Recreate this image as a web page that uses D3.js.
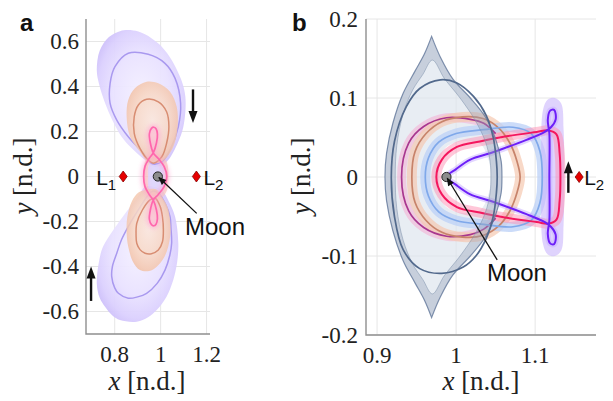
<!DOCTYPE html>
<html>
<head>
<meta charset="utf-8">
<script src="https://cdn.jsdelivr.net/npm/d3@7"></script>
<style>
html,body{margin:0;padding:0;background:#fff;}
svg{display:block;}
</style>
</head>
<body>
<svg id="fig" width="613" height="401"></svg>
<script>
// ---------------- data (non-dimensional rotating frame) ----------------
const aXTicks = [0.8, 1, 1.2];
const aYTicks = [-0.6, -0.4, -0.2, 0, 0.2, 0.4, 0.6];
const bXTicks = [0.9, 1, 1.1];
const bYTicks = [-0.2, -0.1, 0, 0.1, 0.2];

const moon = [0.9878, 0];
const L1 = 0.8369, L2 = 1.1557;

// panel a: upper and lower lobes of the families
const aPurpleBandUp = [[0.968,0.044],[0.932,0.073],[0.870,0.130],[0.830,0.177],[0.790,0.250],[0.758,0.327],[0.732,0.410],[0.722,0.473],[0.735,0.560],[0.775,0.620],[0.823,0.646],[0.859,0.651],[0.903,0.644],[0.960,0.615],[1.005,0.577],[1.050,0.515],[1.084,0.444],[1.103,0.385],[1.109,0.327],[1.099,0.221],[1.075,0.150],[1.033,0.073],[1.000,0.048]];
const aPurpleLineUp = [[0.859,0.548],[0.801,0.488],[0.780,0.414],[0.780,0.325],[0.809,0.251],[0.859,0.177],[0.932,0.096],[0.964,0.056],[1.005,0.066],[1.041,0.118],[1.077,0.221],[1.087,0.325],[1.063,0.436],[1.019,0.503],[0.946,0.543]];
const aOrangeBandUp = [[0.939,0.421],[0.888,0.392],[0.859,0.340],[0.852,0.266],[0.867,0.177],[0.910,0.110],[0.946,0.066],[1.005,0.066],[1.055,0.132],[1.074,0.221],[1.070,0.310],[1.041,0.377],[0.990,0.414]];
const aOrangeLineUp = [[0.939,0.343],[0.903,0.318],[0.885,0.266],[0.885,0.192],[0.910,0.125],[0.946,0.073],[0.968,0.059],[1.005,0.088],[1.026,0.148],[1.036,0.221],[1.026,0.288],[0.990,0.332]];

const aPurpleBandLow = [[0.932,-0.045],[0.910,-0.075],[0.867,-0.134],[0.794,-0.238],[0.750,-0.310],[0.736,-0.356],[0.722,-0.475],[0.735,-0.540],[0.758,-0.579],[0.790,-0.618],[0.823,-0.638],[0.896,-0.645],[0.945,-0.625],[0.983,-0.593],[1.025,-0.535],[1.055,-0.460],[1.072,-0.380],[1.077,-0.297],[1.063,-0.179],[1.035,-0.110],[1.005,-0.060],[0.970,-0.045]];
const aPurpleLineLow = [[0.946,-0.082],[0.905,-0.145],[0.867,-0.208],[0.830,-0.280],[0.809,-0.341],[0.790,-0.400],[0.787,-0.445],[0.800,-0.495],[0.816,-0.519],[0.859,-0.541],[0.900,-0.535],[0.939,-0.519],[0.985,-0.475],[1.019,-0.416],[1.040,-0.350],[1.048,-0.297],[1.045,-0.230],[1.041,-0.179],[1.020,-0.120],[0.990,-0.075],[0.965,-0.065]];
const aOrangeBandLow = [[0.955,-0.055],[0.905,-0.070],[0.875,-0.110],[0.855,-0.179],[0.852,-0.250],[0.859,-0.312],[0.880,-0.380],[0.910,-0.416],[0.950,-0.420],[0.983,-0.401],[1.015,-0.360],[1.033,-0.312],[1.043,-0.250],[1.041,-0.193],[1.030,-0.135],[1.005,-0.090],[0.985,-0.060]];
const aOrangeLineLow = [[0.976,-0.097],[0.954,-0.104],[0.920,-0.150],[0.896,-0.208],[0.893,-0.260],[0.896,-0.297],[0.910,-0.325],[0.932,-0.341],[0.960,-0.343],[0.990,-0.327],[1.008,-0.290],[1.012,-0.238],[1.008,-0.180],[0.998,-0.134]];

// band crossing the neighbourhood of the Moon
const aWaistOuter = [[0.925,0.000],[0.930,0.060],[0.950,0.095],[0.975,0.100],[1.005,0.095],[1.028,0.060],[1.034,0.000],[1.028,-0.060],[1.005,-0.095],[0.975,-0.100],[0.950,-0.095],[0.930,-0.060]];
const aWaistInner = [[0.945,0.000],[0.950,0.055],[0.975,0.072],[1.000,0.070],[1.015,0.045],[1.018,0.000],[1.015,-0.045],[1.000,-0.070],[0.975,-0.072],[0.950,-0.055]];

// small figure-eight family around the Moon
const aPink = [[0.968,0.105],[0.955,0.150],[0.951,0.190],[0.960,0.214],[0.970,0.219],[0.980,0.212],[0.986,0.188],[0.982,0.150],[0.968,0.105],[0.950,0.080],[0.932,0.045],[0.926,0.000],[0.932,-0.045],[0.950,-0.080],[0.968,-0.105],[0.982,-0.150],[0.986,-0.188],[0.980,-0.212],[0.970,-0.219],[0.960,-0.214],[0.951,-0.190],[0.955,-0.150],[0.968,-0.105],[0.990,-0.080],[1.015,-0.045],[1.027,0.000],[1.015,0.045],[0.990,0.080]];

// panel b
const bGrayRight = [[0.969,0.178],[0.980,0.152],[0.996,0.124],[1.018,0.100],[1.037,0.076],[1.050,0.048],[1.057,0.020],[1.058,0.000],[1.057,-0.020],[1.050,-0.048],[1.037,-0.076],[1.018,-0.100],[0.996,-0.124],[0.980,-0.152],[0.969,-0.178]];
const bGrayLeft = [[0.969,-0.178],[0.960,-0.156],[0.948,-0.134],[0.933,-0.106],[0.920,-0.068],[0.912,-0.030],[0.910,0.000],[0.912,0.030],[0.920,0.068],[0.933,0.106],[0.948,0.134],[0.960,0.156],[0.969,0.178]];
const bGrayInner = [[0.970,0.148],[0.985,0.125],[1.005,0.100],[1.024,0.072],[1.037,0.045],[1.043,0.020],[1.044,0.000],[1.043,-0.020],[1.037,-0.045],[1.024,-0.072],[1.005,-0.100],[0.985,-0.125],[0.970,-0.148],[0.958,-0.130],[0.945,-0.110],[0.933,-0.080],[0.925,-0.040],[0.923,0.000],[0.925,0.040],[0.933,0.080],[0.945,0.110],[0.958,0.130]];
const bGrayHole = [[1.044,0.000],[1.040,0.025],[1.030,0.042],[1.005,0.045],[0.985,0.035],[0.978,0.000],[0.985,-0.035],[1.005,-0.045],[1.030,-0.042],[1.040,-0.025]];
const bGrayLine = [[0.980,0.123],[1.001,0.119],[1.022,0.102],[1.038,0.078],[1.047,0.050],[1.051,0.020],[1.052,0.000],[1.051,-0.020],[1.047,-0.050],[1.038,-0.078],[1.025,-0.100],[1.009,-0.114],[0.982,-0.122],[0.954,-0.116],[0.933,-0.092],[0.922,-0.050],[0.918,0.000],[0.922,0.045],[0.937,0.089],[0.954,0.112]];

const bMagenta = [[1.050,0.055],[1.035,0.068],[1.018,0.073],[0.988,0.075],[0.959,0.064],[0.940,0.043],[0.931,0.000],[0.940,-0.043],[0.959,-0.064],[0.988,-0.075],[1.018,-0.073],[1.035,-0.066],[1.050,-0.052]];
const bOrange = [[0.944,0.000],[0.948,0.032],[0.962,0.055],[0.982,0.070],[1.008,0.076],[1.034,0.074],[1.054,0.062],[1.068,0.043],[1.077,0.020],[1.081,0.000],[1.077,-0.020],[1.068,-0.043],[1.054,-0.062],[1.034,-0.074],[1.008,-0.076],[0.982,-0.070],[0.962,-0.055],[0.948,-0.032]];
const bBlue = [[0.961,0.000],[0.965,0.024],[0.978,0.044],[1.000,0.055],[1.035,0.060],[1.072,0.063],[1.095,0.055],[1.106,0.033],[1.109,0.000],[1.106,-0.033],[1.095,-0.055],[1.072,-0.063],[1.035,-0.060],[1.000,-0.055],[0.978,-0.044],[0.965,-0.024]];
const bRed = [[0.975,0.000],[0.982,0.022],[1.001,0.038],[1.030,0.045],[1.060,0.051],[1.102,0.057],[1.117,0.059],[1.127,0.054],[1.131,0.030],[1.132,0.000],[1.131,-0.030],[1.127,-0.054],[1.117,-0.059],[1.102,-0.057],[1.060,-0.051],[1.030,-0.045],[1.001,-0.038],[0.982,-0.022]];
const bViolet = [[0.988,0.000],[1.000,0.010],[1.018,0.022],[1.043,0.030],[1.060,0.036],[1.089,0.047],[1.110,0.056],[1.120,0.063],[1.126,0.073],[1.124,0.085],[1.119,0.084],[1.116,0.072],[1.118,0.055],[1.118,0.000],[1.118,-0.055],[1.116,-0.072],[1.119,-0.084],[1.124,-0.085],[1.126,-0.073],[1.120,-0.063],[1.110,-0.056],[1.089,-0.047],[1.060,-0.036],[1.043,-0.030],[1.018,-0.022],[1.000,-0.010]];
const bVioletCap = [[1.108,0.000],[1.110,0.085],[1.116,0.098],[1.125,0.100],[1.133,0.093],[1.136,0.060],[1.137,0.000],[1.136,-0.060],[1.133,-0.093],[1.125,-0.100],[1.116,-0.098],[1.110,-0.085]];

// direction-of-motion arrows: [x, yFrom, yTo]
const aArrows = [[1.141,0.387,0.238],[0.697,-0.553,-0.400]];
const bArrows = [[1.142,-0.020,0.020]];

// ---------------- layout ----------------
const SERIF = '"Liberation Serif"';
const SANS = '"Liberation Sans"';
const svg = d3.select("#fig");
const defs = svg.append("defs");
const under = svg.append("g");
const over = svg.append("g");

const frameA = {l:86, r:210, t:19, b:334};
const frameB = {l:366, r:596, t:19, b:335};

function makePanel(f, xd, yd, id){
  const x = d3.scaleLinear().domain(xd).range([f.l, f.r]);
  const y = d3.scaleLinear().domain(yd).range([f.b, f.t]);
  defs.append("clipPath").attr("id", id).append("rect")
    .attr("x", f.l).attr("y", f.t).attr("width", f.r - f.l).attr("height", f.b - f.t);
  const g = under.append("g");
  return {x, y, f, g, id};
}
const A = makePanel(frameA, [0.675, 1.215], [-0.7, 0.7], "clipA");
const B = makePanel(frameB, [0.886, 1.177], [-0.2, 0.2], "clipB");

// tick labels from the scales
function tickLabels(P, xt, yt, padY){
  over.append("g").selectAll("text").data(yt).join("text")
    .attr("x", P.f.l - padY).attr("y", d => P.y(d)).attr("dy", "0.33em").attr("text-anchor", "end")
    .attr("font-family", "Liberation Serif").style("font-family", SERIF).style("font-size", "23px").attr("fill", "#222")
    .text(d => String(d));
  over.append("g").selectAll("text").data(xt).join("text")
    .attr("x", d => P.x(d)).attr("y", P.f.b + 28).attr("text-anchor", "middle")
    .attr("font-family", "Liberation Serif").style("font-family", SERIF).style("font-size", "23px").attr("fill", "#222")
    .text(d => String(d));
}
tickLabels(A, aXTicks, aYTicks, 7);
tickLabels(B, bXTicks, bYTicks, 8);

function axisTitles(xc, yc){
  const tx = over.append("text").attr("x", xc).attr("y", 390).attr("text-anchor", "middle")
    .attr("font-family", "Liberation Serif").style("font-family", SERIF).style("font-size", "27px").attr("fill", "#222");
  tx.append("tspan").style("font-style", "italic").text("x");
  tx.append("tspan").text(" [n.d.]");
  const ty = over.append("text").attr("transform", `translate(${yc},176) rotate(-90)`).attr("text-anchor", "middle")
    .attr("dy", "0.3em").attr("font-family", "Liberation Serif").style("font-family", SERIF).style("font-size", "27px").attr("fill", "#222");
  ty.append("tspan").style("font-style", "italic").text("y");
  ty.append("tspan").text(" [n.d.]");
}
axisTitles(147, 24);
axisTitles(481, 302);

[["a", 20], ["b", 292]].forEach(([s, x]) =>
  over.append("text").attr("x", x).attr("y", 31).style("font-family", SANS)
    .style("font-weight", "bold").style("font-size", "24px").attr("fill", "#111").text(s));

// filters, gradients, pointer marker
function blur(id, sd){
  defs.append("filter").attr("id", id).attr("x","-30%").attr("y","-30%").attr("width","160%").attr("height","160%")
    .append("feGaussianBlur").attr("stdDeviation", sd);
}
blur("soft", 0.6);
blur("glow", 2.2);
function radial(id, stops){
  const gr = defs.append("radialGradient").attr("id", id).attr("cx","50%").attr("cy","48%").attr("r","58%");
  stops.forEach(s => gr.append("stop").attr("offset", s[0]).attr("stop-color", s[1]));
}
radial("gPurple", [[0,"#f4f0ff"],[0.55,"#e9e2ff"],[0.85,"#dbd0fe"],[1,"#cdbffa"]]);
radial("gOrange", [[0,"#fbe7db"],[0.55,"#f8d8c5"],[0.85,"#f4c7ae"],[1,"#efbb9e"]]);

defs.append("marker").attr("id","ptr").attr("viewBox","0 0 10 10").attr("refX",9).attr("refY",5)
  .attr("markerWidth",9).attr("markerHeight",8).attr("markerUnits","userSpaceOnUse").attr("orient","auto")
  .append("path").attr("d","M0,0.8L10,5L0,9.2Z").attr("fill","#111");

// grid
function grid(P, xt, yt){
  const g = P.g.append("g");
  g.selectAll("line.gx").data(xt).join("line").attr("class","gx")
    .attr("x1", d => P.x(d)).attr("x2", d => P.x(d)).attr("y1", P.f.t).attr("y2", P.f.b)
    .attr("stroke", "#e6e6e6").attr("stroke-width", 1);
  g.selectAll("line.gy").data(yt).join("line").attr("class","gy")
    .attr("x1", P.f.l).attr("x2", P.f.r).attr("y1", d => P.y(d)).attr("y2", d => P.y(d))
    .attr("stroke", "#e6e6e6").attr("stroke-width", 1);
}
grid(A, aXTicks, aYTicks);
grid(B, bXTicks, bYTicks);

const closedLine = P => d3.line().x(d => P.x(d[0])).y(d => P.y(d[1])).curve(d3.curveCatmullRomClosed.alpha(0.5));
const openLine = P => d3.line().x(d => P.x(d[0])).y(d => P.y(d[1])).curve(d3.curveCatmullRom.alpha(0.5));

// ---------------- panel a ----------------
{
  const P = A, cl = closedLine(P);
  const layer = P.g.append("g").attr("clip-path", "url(#clipA)");
  [aPurpleBandUp, aPurpleBandLow].forEach(d =>
    layer.append("path").attr("d", cl(d)).attr("fill", "url(#gPurple)").attr("opacity", 0.95));
  layer.append("path").attr("d", cl(aWaistOuter) + cl(aWaistInner)).attr("fill-rule","evenodd")
    .attr("fill", "#f4cdb9").attr("opacity", 0.7).attr("filter","url(#soft)");
  layer.append("path").attr("d", cl(aWaistInner)).attr("fill", "#ddd3fc").attr("opacity", 0.9);
  [aPurpleLineUp, aPurpleLineLow].forEach(d =>
    layer.append("path").attr("d", cl(d)).attr("fill", "none").attr("stroke", "#a999ef").attr("stroke-width", 1.5));
  [aOrangeBandUp, aOrangeBandLow].forEach(d =>
    layer.append("path").attr("d", cl(d)).attr("fill", "url(#gOrange)").attr("opacity", 0.85));
  [aOrangeLineUp, aOrangeLineLow].forEach(d =>
    layer.append("path").attr("d", cl(d)).attr("fill", "none").attr("stroke", "#d88d72").attr("stroke-width", 1.5));
  layer.append("path").attr("d", cl(aPink)).attr("fill", "none").attr("stroke", "#ffa6d4")
    .attr("stroke-width", 6).attr("opacity", 0.55).attr("filter", "url(#glow)");
  layer.append("path").attr("d", cl(aPink)).attr("fill", "none").attr("stroke", "#ff67ad").attr("stroke-width", 1.7);
}

// ---------------- panel b ----------------
{
  const P = B, cl = closedLine(P), op = openLine(P);
  const layer = P.g.append("g").attr("clip-path", "url(#clipB)");
  const outerD = op(bGrayRight) + op(bGrayLeft).replace(/^M/, "L") + "Z";
  // light interior of the outer family
  layer.append("path").attr("d", outerD + cl(bGrayHole)).attr("fill-rule", "evenodd")
    .attr("fill", "#dce3ec").attr("opacity", 0.65);
  // bands
  const band = (d, color, w, o, closed = true) => layer.append("path")
    .attr("d", closed ? cl(d) : op(d)).attr("fill", "none").attr("stroke", color)
    .attr("stroke-width", w).attr("stroke-linecap", "round").attr("opacity", o).attr("filter", "url(#soft)");
  band(bMagenta, "#f5aed3", 9, 0.55, false);
  band(bOrange, "#f6c9b2", 10, 0.7);
  band(bBlue, "#bcd1f7", 10, 0.75);
  layer.append("path").attr("d", cl(bVioletCap)).attr("fill", "#cbb6fd").attr("opacity", 0.6).attr("filter", "url(#soft)");
  band(bRed, "#ff91b4", 10, 0.5);
  band(bViolet, "#c7aeff", 6, 0.5);
  // lines
  const line = (d, color, w, closed = true) => layer.append("path")
    .attr("d", closed ? cl(d) : op(d)).attr("fill", "none").attr("stroke", color).attr("stroke-width", w);
  line(bMagenta, "#a8378f", 1.7, false);
  line(bOrange, "#c7836a", 1.7);
  line(bBlue, "#7fa8ea", 1.7);
  line(bRed, "#f4175e", 2);
  line(bViolet, "#6d1ff8", 2);
  // outer family ribbon on top
  layer.append("path").attr("d", outerD + cl(bGrayInner)).attr("fill-rule", "evenodd")
    .attr("fill", "#95a3b9").attr("opacity", 0.4);
  layer.append("path").attr("d", cl(bGrayInner)).attr("fill", "none").attr("stroke", "#8193ad").attr("stroke-width", 0.9).attr("opacity", 0.6);
  layer.append("path").attr("d", outerD).attr("fill", "none").attr("stroke", "#62779a").attr("stroke-width", 1.2).attr("opacity", 0.8);
  line(bGrayLine, "#52698c", 1.7);
}

// axis lines (left and bottom)
[A, B].forEach(P => {
  under.append("path").attr("d", `M${P.f.l},${P.f.t}V${P.f.b}H${P.f.r}`)
    .attr("fill", "none").attr("stroke", "#8f8f8f").attr("stroke-width", 1.4);
});

// ---------------- annotations ----------------
function lagrange(P, xv, label, sub, side, gap){
  const cx = P.x(xv), cy = P.y(0);
  over.append("path").attr("d", `M${cx},${cy-5.5}L${cx+4},${cy}L${cx},${cy+5.5}L${cx-4},${cy}Z`)
    .attr("fill", "#e60000").attr("stroke", "#8a0000").attr("stroke-width", 0.8);
  const t = over.append("text").style("font-family", SANS).style("font-size", "21px")
    .attr("fill", "#111").attr("y", cy + 8)
    .attr("x", side === "left" ? cx - gap : cx + gap).attr("text-anchor", side === "left" ? "end" : "start");
  t.append("tspan").text(label);
  t.append("tspan").style("font-size", "15px").attr("dy", 5).text(sub);
}
lagrange(A, L1, "L", "1", "left", 7);
lagrange(A, L2, "L", "2", "right", 7);
lagrange(B, L2, "L", "2", "right", 5);

function moonMark(P, lx, ly, tx, ty){
  const mx = P.x(moon[0]), my = P.y(moon[1]);
  const ex = P.x(lx), ey = P.y(ly);
  const dx = mx - ex, dy = my - ey, len = Math.hypot(dx, dy);
  over.append("circle").attr("cx", mx).attr("cy", my).attr("r", 4.6)
    .attr("fill", "#8c8c8c").attr("stroke", "#222").attr("stroke-width", 1);
  over.append("line").attr("x1", ex).attr("y1", ey)
    .attr("x2", mx - dx / len * 1.5).attr("y2", my - dy / len * 1.5)
    .attr("stroke", "#111").attr("stroke-width", 1.3).attr("marker-end", "url(#ptr)");
  over.append("text").attr("x", P.x(tx)).attr("y", P.y(ty)).style("font-family", SANS)
    .style("font-size", "24px").attr("fill", "#111").text("Moon");
}
moonMark(A, 1.157, -0.164, 1.106, -0.26);
moonMark(B, 1.052, -0.105, 1.039, -0.132);

function motionArrows(P, list){
  list.forEach(([xv, y0, y1]) => {
    const x = P.x(xv), ya = P.y(y0), yb = P.y(y1);
    const dir = Math.sign(yb - ya);
    const head = 12;
    over.append("line").attr("x1", x).attr("x2", x).attr("y1", ya).attr("y2", yb - dir * (head - 1))
      .attr("stroke", "#111").attr("stroke-width", 2.4);
    over.append("path").attr("d", `M${x-4.5},${yb - dir*head}L${x+4.5},${yb - dir*head}L${x},${yb}Z`).attr("fill", "#111");
  });
}
motionArrows(A, aArrows);
motionArrows(B, bArrows);
</script>
</body>
</html>
